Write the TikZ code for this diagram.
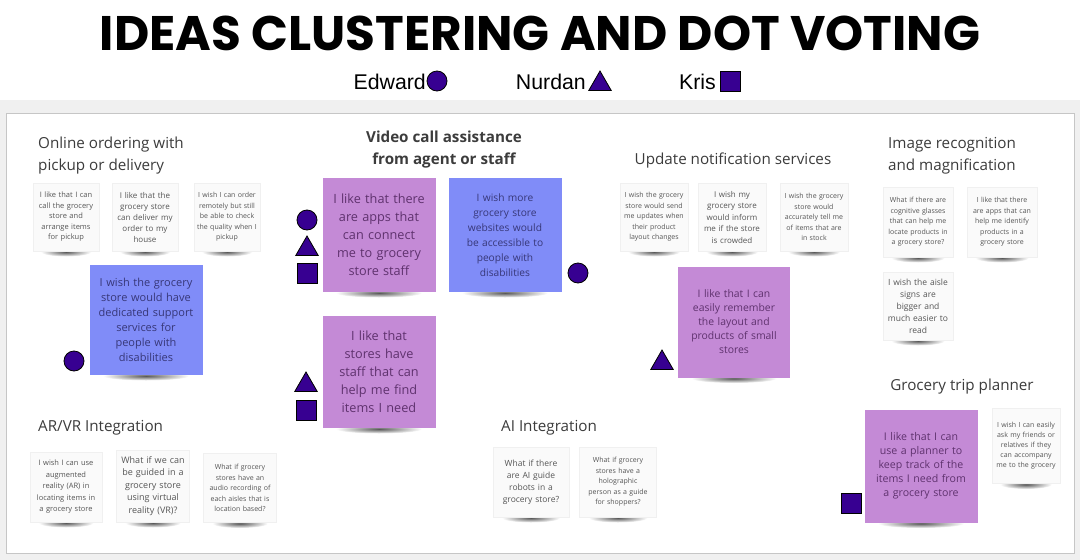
\documentclass[tikz,border=0pt]{standalone}
\usepackage{fontspec}
\setmainfont{Open Sans}
\newfontfamily\poppins{Poppins}
\newfontfamily\arialf{Liberation Sans}
\usetikzlibrary{shapes.geometric}
\definecolor{vote}{RGB}{55,0,145}
\definecolor{notepurple}{RGB}{196,138,214}
\definecolor{noteblue}{RGB}{128,140,248}
\definecolor{ptext}{RGB}{95,50,110}
\definecolor{btext}{RGB}{55,55,120}
\definecolor{wtext}{RGB}{85,85,85}
\definecolor{headc}{RGB}{60,60,60}
\definecolor{paper}{RGB}{250,250,250}
\tikzset{
  votebase/.style={fill=vote, draw=black, line width=0.8pt, inner sep=0pt},
  votecircle/.style={votebase, circle, minimum size=20pt},
  votetri/.style={votebase, regular polygon, regular polygon sides=3, minimum size=26pt},
  votesq/.style={votebase, rectangle, minimum size=20pt},
  head/.style={font=\fontsize{15.2}{22}\selectfont, text=headc, inner sep=0pt, align=left},
  legend/.style={font=\arialf\fontsize{21.3}{24}\selectfont, text=black, inner sep=0pt},
  whitenote/.style={fill=paper, draw=gray!12, text=wtext, align=center, inner sep=0pt},
  purplenote/.style={fill=notepurple, text=ptext, align=center, inner sep=0pt},
  bluenote/.style={fill=noteblue, text=btext, align=center, inner sep=0pt},
}
\newcommand\stick[8]{%
  \shade[inner color=black!65, outer color=white] (#2,#3+#5/2+1) ellipse ({#4*0.38} and 4.5);
  \node[#6, minimum width=#4pt, minimum height=#5pt, text width=\dimexpr#4pt-6pt\relax, font=#7] (#1) at (#2,#3) {#8};
}
\begin{document}
\begin{tikzpicture}[x=1pt,y=-1pt]
\useasboundingbox (0,0) rectangle (1080,560);
\fill[white] (0,0) rectangle (1080,560);
% board
\fill[gray!12] (0,100) rectangle (1080,560);
\draw[gray!45, fill=white] (6,113) rectangle (1074,553);
% title
\node[inner sep=0pt] (title) at (540,33) {\resizebox{880pt}{!}{\poppins\bfseries IDEAS CLUSTERING AND DOT VOTING}};
% legend
\node[legend, anchor=east] (edw) at (426,82) {Edward};
\node[votecircle] (edwsym) at (437,81) {};
\node[legend, anchor=east] (nur) at (586,82) {Nurdan};
\node[votetri] (nursym) at (600,84) {};
\node[legend, anchor=east] (kri) at (716,82) {Kris};
\node[votesq] (krisym) at (730,81) {};
% headings
\node[head, anchor=west] (h1) at (38,156) {Online ordering with\\pickup or delivery};
\node[head, align=center, font=\bfseries\fontsize{15.2}{22}\selectfont] (h2) at (444,150) {Video call assistance\\from agent or staff};
\node[head] (h3) at (733,161) {Update notification services};
\node[head, anchor=west] (h4) at (888,156) {Image recognition\\and magnification};
\node[head, anchor=west] (h5) at (38,428) {AR/VR Integration};
\node[head, anchor=west] (h6) at (501,428) {AI Integration};
\node[head] (h7) at (962,387) {Grocery trip planner};
% online ordering
\stick{o1}{66}{217}{66}{68}{whitenote}{\fontsize{7.5}{10.5}\selectfont}{I like that I can\\call the grocery\\store and\\arrange items\\for pickup}
\stick{o2}{145}{217}{66}{68}{whitenote}{\fontsize{8}{11}\selectfont}{I like that the\\grocery store\\can deliver my\\order to my\\house}
\stick{o3}{227}{217}{66}{68}{whitenote}{\fontsize{7}{10.5}\selectfont}{I wish I can order\\remotely but still\\be able to check\\the quality when I\\pickup}
\stick{o4}{146}{320}{113}{110}{bluenote}{\fontsize{11}{15}\selectfont}{I wish the grocery\\store would have\\dedicated support\\services for\\people with\\disabilities}
% video call
\stick{v1}{379}{235}{113}{114}{purplenote}{\fontsize{12.7}{18}\selectfont}{I like that there\\are apps that\\can connect\\me to grocery\\store staff}
\stick{v2}{505}{235}{113}{114}{bluenote}{\fontsize{10.2}{15}\selectfont}{I wish more\\grocery store\\websites would\\be accessible to\\people with\\disabilities}
\stick{v3}{379}{372}{113}{112}{purplenote}{\fontsize{12.7}{18}\selectfont}{I like that\\stores have\\staff that can\\help me find\\items I need}
% update notification
\stick{u1}{654}{217}{68}{68}{whitenote}{\fontsize{7}{10.5}\selectfont}{I wish the grocery\\store would send\\me updates when\\their product\\layout changes}
\stick{u2}{732}{217}{68}{68}{whitenote}{\fontsize{8}{11.5}\selectfont}{I wish my\\grocery store\\would inform\\me if the store\\is crowded}
\stick{u3}{814}{217}{68}{68}{whitenote}{\fontsize{7}{10.5}\selectfont}{I wish the grocery\\store would\\accurately tell me\\of items that are\\in stock}
\stick{u4}{734}{322}{112}{111}{purplenote}{\fontsize{10.4}{14}\selectfont}{I like that I can\\easily remember\\the layout and\\products of small\\stores}
% image recognition
\stick{i1}{918}{222}{70}{70}{whitenote}{\fontsize{7}{10.5}\selectfont}{What if there are\\cognitive glasses\\that can help me\\locate products in\\a grocery store?}
\stick{i2}{1002}{222}{70}{70}{whitenote}{\fontsize{7}{10.5}\selectfont}{I like that there\\are apps that can\\help me identify\\products in a\\grocery store}
\stick{i3}{918}{306}{70}{68}{whitenote}{\fontsize{8.5}{12}\selectfont}{I wish the aisle\\signs are\\bigger and\\much easier to\\read}
% AR/VR
\stick{a1}{66}{487}{72}{70}{whitenote}{\fontsize{7.5}{11.5}\selectfont}{I wish I can use\\augmented\\reality (AR) in\\locating items in\\a grocery store}
\stick{a2}{153}{486}{73}{72}{whitenote}{\fontsize{9}{12.5}\selectfont}{What if we can\\be guided in a\\grocery store\\using virtual\\reality (VR)?}
\stick{a3}{240}{488}{73}{69}{whitenote}{\fontsize{7}{10.5}\selectfont}{What if grocery\\stores have an\\audio recording of\\each aisles that is\\location based?}
% AI
\stick{ai1}{531}{482}{76}{70}{whitenote}{\fontsize{8.5}{12}\selectfont}{What if there\\are AI guide\\robots in a\\grocery store?}
\stick{ai2}{618}{482}{77}{70}{whitenote}{\fontsize{7}{10.5}\selectfont}{What if grocery\\stores have a\\holographic\\person as a guide\\for shoppers?}
% grocery trip planner
\stick{g1}{921}{466}{113}{113}{purplenote}{\fontsize{10.6}{14}\selectfont}{I like that I can\\use a planner to\\keep track of the\\items I need from\\a grocery store}
\stick{g2}{1026}{446}{68}{75}{whitenote}{\fontsize{7}{10}\selectfont}{I wish I can easily\\ask my friends or\\relatives if they\\can accompany\\me to the grocery}
% votes
\node[votecircle] (c1) at (307,220) {};
\node[votetri] (t1) at (307,249) {};
\node[votesq] (s1) at (307,273) {};
\node[votecircle] (c2) at (578,273) {};
\node[votecircle] (c3) at (74,361) {};
\node[votetri] (t2) at (306,385) {};
\node[votesq] (s2) at (306,410) {};
\node[votetri] (t3) at (662,363) {};
\node[votesq] (s3) at (851,503) {};
\end{tikzpicture}
\end{document}
